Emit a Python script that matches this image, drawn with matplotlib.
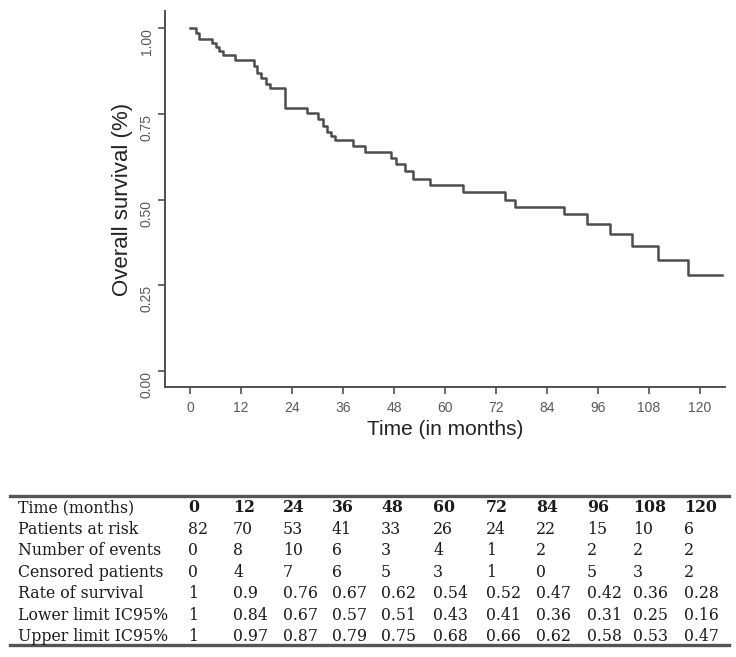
import matplotlib
matplotlib.use("Agg")
import matplotlib.pyplot as plt
from matplotlib.lines import Line2D

# ---- Kaplan-Meier step data ----
step_times = [0, 1.3, 2.2, 5.2, 6.0, 6.8, 7.7, 10.6, 15.0, 15.8, 16.8, 17.8, 18.8,
              22.4, 27.5, 30.2, 31.2, 32.2, 33.2, 34.0, 38.4, 41.2, 47.3, 48.5,
              50.5, 52.4, 56.5, 64.3, 74.1, 76.5, 88.0, 93.5, 98.8, 103.9, 110.1, 117.3]
step_surv = [1.0, 0.985, 0.968, 0.956, 0.944, 0.932, 0.921, 0.907, 0.888, 0.870,
             0.855, 0.838, 0.824, 0.768, 0.752, 0.735, 0.715, 0.697, 0.684, 0.673,
             0.657, 0.639, 0.622, 0.603, 0.583, 0.561, 0.542, 0.523, 0.500, 0.479,
             0.457, 0.430, 0.400, 0.365, 0.324, 0.280]
end_time = 125.3

x_ticks = [0, 12, 24, 36, 48, 60, 72, 84, 96, 108, 120]
y_ticks = [0.0, 0.25, 0.50, 0.75, 1.00]
y_ticklabels = ["0.00", "0.25", "0.50", "0.75", "1.00"]

# ---- Table data ----
row_labels = ["Time (months)", "Patients at risk", "Number of events",
              "Censored patients", "Rate of survival", "Lower limit IC95%",
              "Upper limit IC95%"]
time_months = ["0", "12", "24", "36", "48", "60", "72", "84", "96", "108", "120"]
patients_at_risk = ["82", "70", "53", "41", "33", "26", "24", "22", "15", "10", "6"]
number_of_events = ["0", "8", "10", "6", "3", "4", "1", "2", "2", "2", "2"]
censored_patients = ["0", "4", "7", "6", "5", "3", "1", "0", "5", "3", "2"]
rate_of_survival = ["1", "0.9", "0.76", "0.67", "0.62", "0.54", "0.52", "0.47", "0.42", "0.36", "0.28"]
lower_limit = ["1", "0.84", "0.67", "0.57", "0.51", "0.43", "0.41", "0.36", "0.31", "0.25", "0.16"]
upper_limit = ["1", "0.97", "0.87", "0.79", "0.75", "0.68", "0.66", "0.62", "0.58", "0.53", "0.47"]
table_rows = [time_months, patients_at_risk, number_of_events, censored_patients,
              rate_of_survival, lower_limit, upper_limit]

W, H = 736, 657
fig = plt.figure(figsize=(W / 100, H / 100), dpi=100)
fig.patch.set_facecolor("white")

ax_col = "#505050"
ax = fig.add_axes([165 / W, 1 - 387 / H, (725 - 165) / W, (387 - 11) / H])
xs = list(step_times) + [end_time]
ys = list(step_surv) + [step_surv[-1]]
ax.step(xs, ys, where="post", color="#4d4d4d", lw=1.8)

ax.set_xlim(-5.9, 125.9)
ax.set_ylim(-0.0466, 1.0496)
ax.set_xticks(x_ticks)
ax.set_xticklabels([str(t) for t in x_ticks], fontsize=10, color="#595959",
                   family="Liberation Sans")
ax.set_yticks(y_ticks)
ax.set_yticklabels(y_ticklabels, fontsize=10, color="#595959", rotation=90,
                   va="top", family="Liberation Sans")
for s in ["top", "right"]:
    ax.spines[s].set_visible(False)
for s in ["left", "bottom"]:
    ax.spines[s].set_color(ax_col)
    ax.spines[s].set_linewidth(1.4)
ax.tick_params(axis="x", direction="out", length=5, width=1.2, color=ax_col, pad=5)
ax.tick_params(axis="y", direction="out", length=5, width=1.2, color=ax_col, pad=3)
ax.set_xlabel("Time (in months)", fontsize=15, color="#222222",
              family="Liberation Sans", labelpad=4)
ax.set_ylabel("Overall survival (%)", fontsize=16, color="#222222",
              family="Liberation Sans", labelpad=5)

# ---- Table ----
def fy(py):
    return 1 - py / H

def fx(px):
    return px / W

rule_col = "#555555"
for py in (496, 645):
    fig.add_artist(Line2D([fx(10), fx(729)], [fy(py), fy(py)], color=rule_col,
                          lw=2.4, transform=fig.transFigure))

col_x = [188, 233, 283, 332, 381, 433, 486, 536, 587, 633, 684]
row_y0 = 506
row_dy = 21.4
tcol = "#1a1a1a"
for r, (lab, vals) in enumerate(zip(row_labels, table_rows)):
    y = fy(row_y0 + r * row_dy)
    fig.text(fx(18), y, lab, fontsize=11.3, family="DejaVu Serif",
             ha="left", va="center_baseline", color=tcol)
    for cx, v in zip(col_x, vals):
        fig.text(fx(cx), y, v, fontsize=11.3, family="DejaVu Serif",
                 ha="left", va="center_baseline", color=tcol,
                 fontweight="bold" if r == 0 else "normal")

fig.savefig("out.png", dpi=100, facecolor="white")
